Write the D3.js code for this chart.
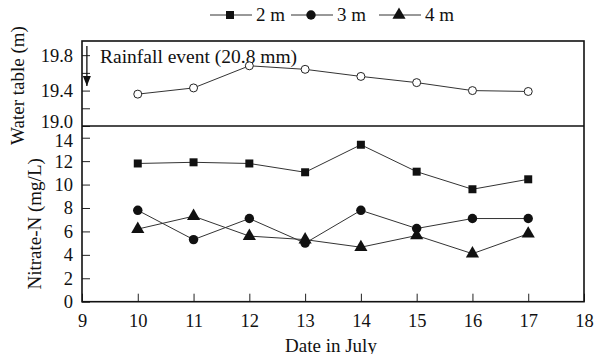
<!DOCTYPE html>
<html>
<head>
<meta charset="utf-8">
<script src="https://cdn.jsdelivr.net/npm/d3@7"></script>
<style>
  body { margin: 0; background: #fff; }
  text { font-family: "Liberation Serif", "Times New Roman", serif; fill: #111; }
</style>
</head>
<body>
<div id="chart"></div>
<script>
// data
const days = [10, 11, 12, 13, 14, 15, 16, 17];
const waterTable = [19.36, 19.43, 19.68, 19.64, 19.56, 19.49, 19.40, 19.39];
const nitrate2m = [11.8, 11.9, 11.8, 11.05, 13.4, 11.1, 9.6, 10.45];
const nitrate3m = [7.8, 5.3, 7.1, 5.0, 7.8, 6.25, 7.1, 7.1];
const nitrate4m = [6.2, 7.3, 5.6, 5.3, 4.65, 5.65, 4.1, 5.8];
const seriesNames = ['2 m', '3 m', '4 m'];
const xTicks = [9, 10, 11, 12, 13, 14, 15, 16, 17, 18];
const topTicks = [19.0, 19.2, 19.4, 19.6, 19.8];
const topLabels = [19.0, 19.4, 19.8];
const bottomTicks = [0, 2, 4, 6, 8, 10, 12, 14];
const rainDay = 9.1;
const rainLabel = 'Rainfall event (20.8 mm)';

const [w, h] = [594, 354];
const pLeft = 82, pRight = 584, pTop = 41, pMid = 126, pBottom = 301.7;

const svg = d3.select('#chart').append('svg')
  .attr('width', w).attr('height', h);

const x = d3.scaleLinear().domain([9, 18]).range([pLeft, pRight]);
const yTop = d3.scaleLinear().domain([19.0, 19.96]).range([pMid, pTop]);
const yBot = d3.scaleLinear().domain([0, 15]).range([pBottom, pMid]);

// axes (inward ticks)
const fs = '18.5px';
const axTop = svg.append('g').attr('transform', `translate(${pLeft},0)`)
  .call(d3.axisLeft(yTop).tickValues(topTicks).tickSizeInner(-8).tickSizeOuter(0).tickPadding(9)
    .tickFormat(d => topLabels.some(v => Math.abs(v - d) < 1e-6) ? d3.format('.1f')(d) : ''));
const axBot = svg.append('g').attr('transform', `translate(${pLeft},0)`)
  .call(d3.axisLeft(yBot).tickValues(bottomTicks).tickSizeInner(-8).tickSizeOuter(0).tickPadding(9));
const axX = svg.append('g').attr('transform', `translate(0,${pBottom})`)
  .call(d3.axisBottom(x).tickValues(xTicks).tickSizeInner(-8).tickSizeOuter(0).tickPadding(12));
[axTop, axBot, axX].forEach(g => {
  g.select('.domain').remove();
  g.selectAll('line').attr('stroke', '#222').attr('stroke-width', 1);
  g.selectAll('text').attr('font-size', fs).attr('font-family', '"Liberation Serif", serif').attr('fill', '#111');
});
// the 19.0 label sits a little above its tick, as in the figure
axTop.selectAll('.tick text').filter(d => d === 19.0).attr('dy', '0.1em');
axBot.selectAll('.tick text').filter(d => d === 14).attr('dy', '0.45em');

// frame and divider
svg.append('rect').attr('x', pLeft).attr('y', pTop)
  .attr('width', pRight - pLeft).attr('height', pBottom - pTop)
  .attr('fill', 'none').attr('stroke', '#111').attr('stroke-width', 1.6);
svg.append('line').attr('x1', pLeft).attr('x2', pRight).attr('y1', pMid).attr('y2', pMid)
  .attr('stroke', '#111').attr('stroke-width', 1.6);

// axis titles
svg.append('text').attr('transform', `translate(24,${(pTop + pMid) / 2 + 2}) rotate(-90)`)
  .attr('text-anchor', 'middle').attr('font-size', '19px').text('Water table (m)');
svg.append('text').attr('transform', `translate(41,${(pMid + pBottom) / 2 + 10}) rotate(-90)`)
  .attr('text-anchor', 'middle').attr('font-size', '19px').text('Nitrate-N (mg/L)');
svg.append('text').attr('x', (pLeft + pRight) / 2 - 2).attr('y', 352)
  .attr('text-anchor', 'middle').attr('font-size', '19px').text('Date in July');

// rainfall arrow
svg.append('defs').append('marker')
  .attr('id', 'arrow').attr('viewBox', '0 0 10 10').attr('refX', 10).attr('refY', 5)
  .attr('markerWidth', 8).attr('markerHeight', 8).attr('orient', 'auto')
  .append('path').attr('d', 'M0,1 L10,5 L0,9 Z').attr('fill', '#111');
svg.append('line').attr('x1', x(rainDay) - 0.7).attr('x2', x(rainDay) - 0.7)
  .attr('y1', 46).attr('y2', 86)
  .attr('stroke', '#111').attr('stroke-width', 1.3).attr('marker-end', 'url(#arrow)');
svg.append('text').attr('x', 100).attr('y', 63).attr('font-size', '19.5px').text(rainLabel);

// water table series
const topLine = d3.line().x((d, i) => x(days[i])).y(d => yTop(d));
svg.append('path').datum(waterTable).attr('d', topLine)
  .attr('fill', 'none').attr('stroke', '#333').attr('stroke-width', 1);
svg.append('g').selectAll('circle').data(waterTable).join('circle')
  .attr('cx', (d, i) => x(days[i])).attr('cy', d => yTop(d)).attr('r', 4)
  .attr('fill', '#fff').attr('stroke', '#222').attr('stroke-width', 1);

// nitrate series
const symbols = [d3.symbolSquare, d3.symbolCircle, d3.symbolTriangle];
const sizes = [64, 70, 75];
const nitrate = [nitrate2m, nitrate3m, nitrate4m];
const botLine = d3.line().x((d, i) => x(days[i])).y(d => yBot(d));
nitrate.forEach((vals, k) => {
  svg.append('path').datum(vals).attr('d', botLine)
    .attr('fill', 'none').attr('stroke', '#333').attr('stroke-width', 1);
  svg.append('g').selectAll('path').data(vals).join('path')
    .attr('transform', (d, i) => `translate(${x(days[i])},${yBot(d)})`)
    .attr('d', d3.symbol(symbols[k], sizes[k]))
    .attr('fill', '#111');
});

// legend
const legendX = [210, 291, 379];
const lg = svg.append('g');
seriesNames.forEach((name, k) => {
  const x0 = legendX[k];
  lg.append('line').attr('x1', x0).attr('x2', x0 + 42).attr('y1', 15).attr('y2', 15)
    .attr('stroke', '#333').attr('stroke-width', 1);
  lg.append('path').attr('transform', `translate(${x0 + 20},15)`)
    .attr('d', d3.symbol(symbols[k], sizes[k])).attr('fill', '#111');
  lg.append('text').attr('x', x0 + 46).attr('y', 21).attr('font-size', '19px').text(name);
});
</script>
</body>
</html>
